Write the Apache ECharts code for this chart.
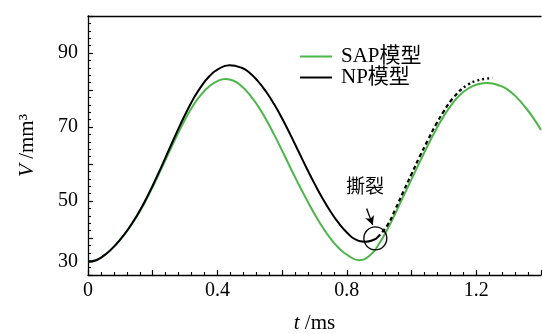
<!DOCTYPE html>
<html>
<head>
<meta charset="utf-8">
<script src="https://cdn.jsdelivr.net/npm/echarts@6/dist/echarts.min.js"></script>
<style>
  html, body { margin: 0; padding: 0; background: #fff; }
  #chart { width: 542px; height: 334px; }
</style>
</head>
<body>
<div id="chart"></div>
<script>
// SAP模型 曲线
const tSap = [0, 0.025, 0.05, 0.075, 0.10, 0.125, 0.15, 0.175, 0.20, 0.225, 0.25, 0.275, 0.30, 0.325, 0.35, 0.375, 0.40, 0.425, 0.45, 0.475, 0.50, 0.525, 0.55, 0.575, 0.60, 0.625, 0.65, 0.675, 0.70, 0.725, 0.75, 0.775, 0.80, 0.837, 0.875, 0.90, 0.925, 0.95, 0.975, 1.00, 1.025, 1.05, 1.075, 1.10, 1.125, 1.15, 1.175, 1.20, 1.235, 1.275, 1.30, 1.325, 1.35, 1.375, 1.40];
const vSap = [33.6, 34.0, 35.3, 37.2, 39.6, 42.4, 45.7, 49.5, 53.8, 58.4, 63.1, 67.7, 72.0, 75.8, 78.8, 81.0, 82.4, 83.0, 82.5, 81.0, 78.7, 75.7, 72.1, 68.0, 63.6, 59.1, 54.7, 50.5, 46.5, 42.9, 39.8, 37.3, 35.5, 34.0, 35.6, 38.5, 42.3, 46.7, 51.3, 55.9, 60.5, 65.0, 69.2, 73.0, 76.2, 78.7, 80.4, 81.4, 81.9, 81.1, 79.9, 78.0, 75.5, 72.6, 69.2];
// NP模型 实线(撕裂前)
const tNp = [0, 0.025, 0.05, 0.075, 0.10, 0.125, 0.15, 0.175, 0.20, 0.225, 0.25, 0.275, 0.30, 0.325, 0.35, 0.375, 0.40, 0.437, 0.475, 0.50, 0.525, 0.55, 0.575, 0.60, 0.625, 0.65, 0.675, 0.70, 0.725, 0.75, 0.775, 0.80, 0.825, 0.858, 0.885, 0.895];
const vNp = [33.6, 34.0, 35.3, 37.2, 39.6, 42.5, 45.9, 49.8, 54.2, 58.9, 63.8, 68.7, 73.3, 77.5, 81.0, 83.7, 85.5, 86.7, 86.0, 84.6, 82.4, 79.6, 76.2, 72.3, 68.0, 63.5, 59.0, 54.7, 50.7, 47.1, 44.0, 41.5, 39.7, 39.0, 39.6, 40.2];
// NP模型 撕裂后 虚线 / 点线
const tNpDash = [0.895, 0.925, 0.95, 0.975, 1.00, 1.025, 1.05, 1.075, 1.10, 1.125, 1.15];
const vNpDash = [40.2, 43.4, 47.8, 52.6, 57.3, 62.0, 66.4, 70.6, 74.3, 77.5, 79.9];
const tNpDot = [1.15, 1.175, 1.20, 1.225, 1.25];
const vNpDot = [79.9, 81.5, 82.5, 83.0, 83.2];
// 撕裂点标注
const tearPoint = [0.888, 39.9];
const tearArrow = [[0.861, 48.0], [0.880, 43.5]];
const tearLabelPos = [0.856, 54.0];

const yLabels = [30, 50, 70, 90];
const xLabels = [0, 0.4, 0.8, 1.2];

function zip(t, v) {
  return t.map((x, i) => [x, v[i]]);
}

const FONT = '"Liberation Serif", "Noto Sans CJK SC", serif';
const GREEN = '#4cb648';

const chart = echarts.init(document.getElementById('chart'), null, { renderer: 'canvas' });

const option = {
  animation: false,
  backgroundColor: '#fff',
  grid: { left: 88, right: 1, top: 16, bottom: 59, outerBoundsMode: 'none', containLabel: false },
  legend: {
    data: ['SAP模型', 'NP模型'],
    orient: 'vertical',
    left: 295,
    top: 41,
    icon: 'rect',
    itemWidth: 32,
    itemHeight: 2,
    itemGap: 0,
    textStyle: { fontFamily: FONT, fontSize: 21, lineHeight: 19, color: '#000', padding: [0, 0, 0, 4] }
  },
  xAxis: [{
    type: 'value',
    min: 0,
    max: 1.4,
    interval: 0.2,
    name: '{i|t} /ms',
    nameLocation: 'middle',
    nameGap: 38,
    nameTextStyle: {
      fontFamily: FONT, fontSize: 21, color: '#000',
      rich: { i: { fontFamily: FONT, fontSize: 21, fontStyle: 'italic' } }
    },
    axisLine: { lineStyle: { color: '#000', width: 1.3 } },
    axisTick: { inside: true, length: 5, lineStyle: { color: '#000', width: 1.2 } },
    minorTick: { show: true, splitNumber: 5, length: 3, lineStyle: { color: '#000', width: 1.1 } },
    splitLine: { show: false },
    axisLabel: {
      fontFamily: FONT, fontSize: 20, color: '#000', margin: 6,
      formatter: function (v) {
        for (let i = 0; i < xLabels.length; i++) {
          if (Math.abs(v - xLabels[i]) < 1e-6) return String(xLabels[i]);
        }
        return '';
      }
    }
  }, {
    // 上边框
    type: 'value', position: 'top', min: 0, max: 1.4,
    axisLine: { show: true, lineStyle: { color: '#000', width: 1.3 } },
    axisTick: { show: false }, axisLabel: { show: false }, splitLine: { show: false }
  }],
  yAxis: {
    type: 'value',
    min: 30,
    max: 100,
    interval: 10,
    name: '{i|V} /mm³',
    nameLocation: 'middle',
    nameGap: 50,
    nameTextStyle: {
      fontFamily: FONT, fontSize: 21, color: '#000',
      rich: { i: { fontFamily: FONT, fontSize: 21, fontStyle: 'italic' } }
    },
    axisLine: { show: true, lineStyle: { color: '#000', width: 1.3 } },
    axisTick: { inside: true, length: 5, lineStyle: { color: '#000', width: 1.2 } },
    minorTick: { show: true, splitNumber: 5, length: 3, lineStyle: { color: '#000', width: 1.1 } },
    splitLine: { show: false },
    axisLabel: {
      fontFamily: FONT, fontSize: 20, color: '#000', margin: 10,
      formatter: function (v) {
        if (yLabels.indexOf(v) < 0) return '';
        // 30 的标签在原图中略微上移
        return v === 30 ? '{up|30}' : String(v);
      },
      rich: { up: { fontFamily: FONT, fontSize: 20, color: '#000', padding: [0, 0, 26, 0] } }
    }
  },
  series: [
    {
      name: 'SAP模型', type: 'line', data: zip(tSap, vSap),
      smooth: 0.5, symbol: 'none',
      lineStyle: { color: GREEN, width: 2 }, itemStyle: { color: GREEN }, z: 2
    },
    {
      name: 'NP模型', type: 'line', data: zip(tNp, vNp),
      smooth: 0.5, symbol: 'none',
      lineStyle: { color: '#000', width: 2 }, itemStyle: { color: '#000' }, z: 3
    },
    {
      name: 'NP撕裂后', type: 'line', data: zip(tNpDash, vNpDash),
      smooth: 0.5, symbol: 'none',
      lineStyle: { color: '#000', width: 2.2, type: [4, 3] }, z: 3
    },
    {
      name: 'NP撕裂后点线', type: 'line', data: zip(tNpDot, vNpDot),
      smooth: 0.5, symbol: 'none',
      lineStyle: { color: '#000', width: 2.4, type: [2, 3] }, z: 3
    },
    {
      name: '撕裂', type: 'scatter', data: [tearPoint],
      symbol: 'circle', symbolSize: 23,
      itemStyle: { color: 'rgba(0,0,0,0)', borderColor: '#000', borderWidth: 1.3, opacity: 1 },
      z: 4,
      markLine: {
        silent: true, symbol: ['none', 'arrow'], symbolSize: [7, 9],
        lineStyle: { color: '#000', width: 1.3, type: 'solid' },
        label: { show: false },
        data: [[{ coord: tearArrow[0] }, { coord: tearArrow[1] }]]
      },
      markPoint: {
        symbol: 'circle', symbolSize: 0,
        label: { show: true, formatter: '撕裂', fontFamily: '"Noto Sans CJK SC", sans-serif', fontSize: 19, color: '#000', position: 'inside' },
        data: [{ coord: tearLabelPos }]
      }
    }
  ]
};

chart.setOption(option);
</script>
</body>
</html>
